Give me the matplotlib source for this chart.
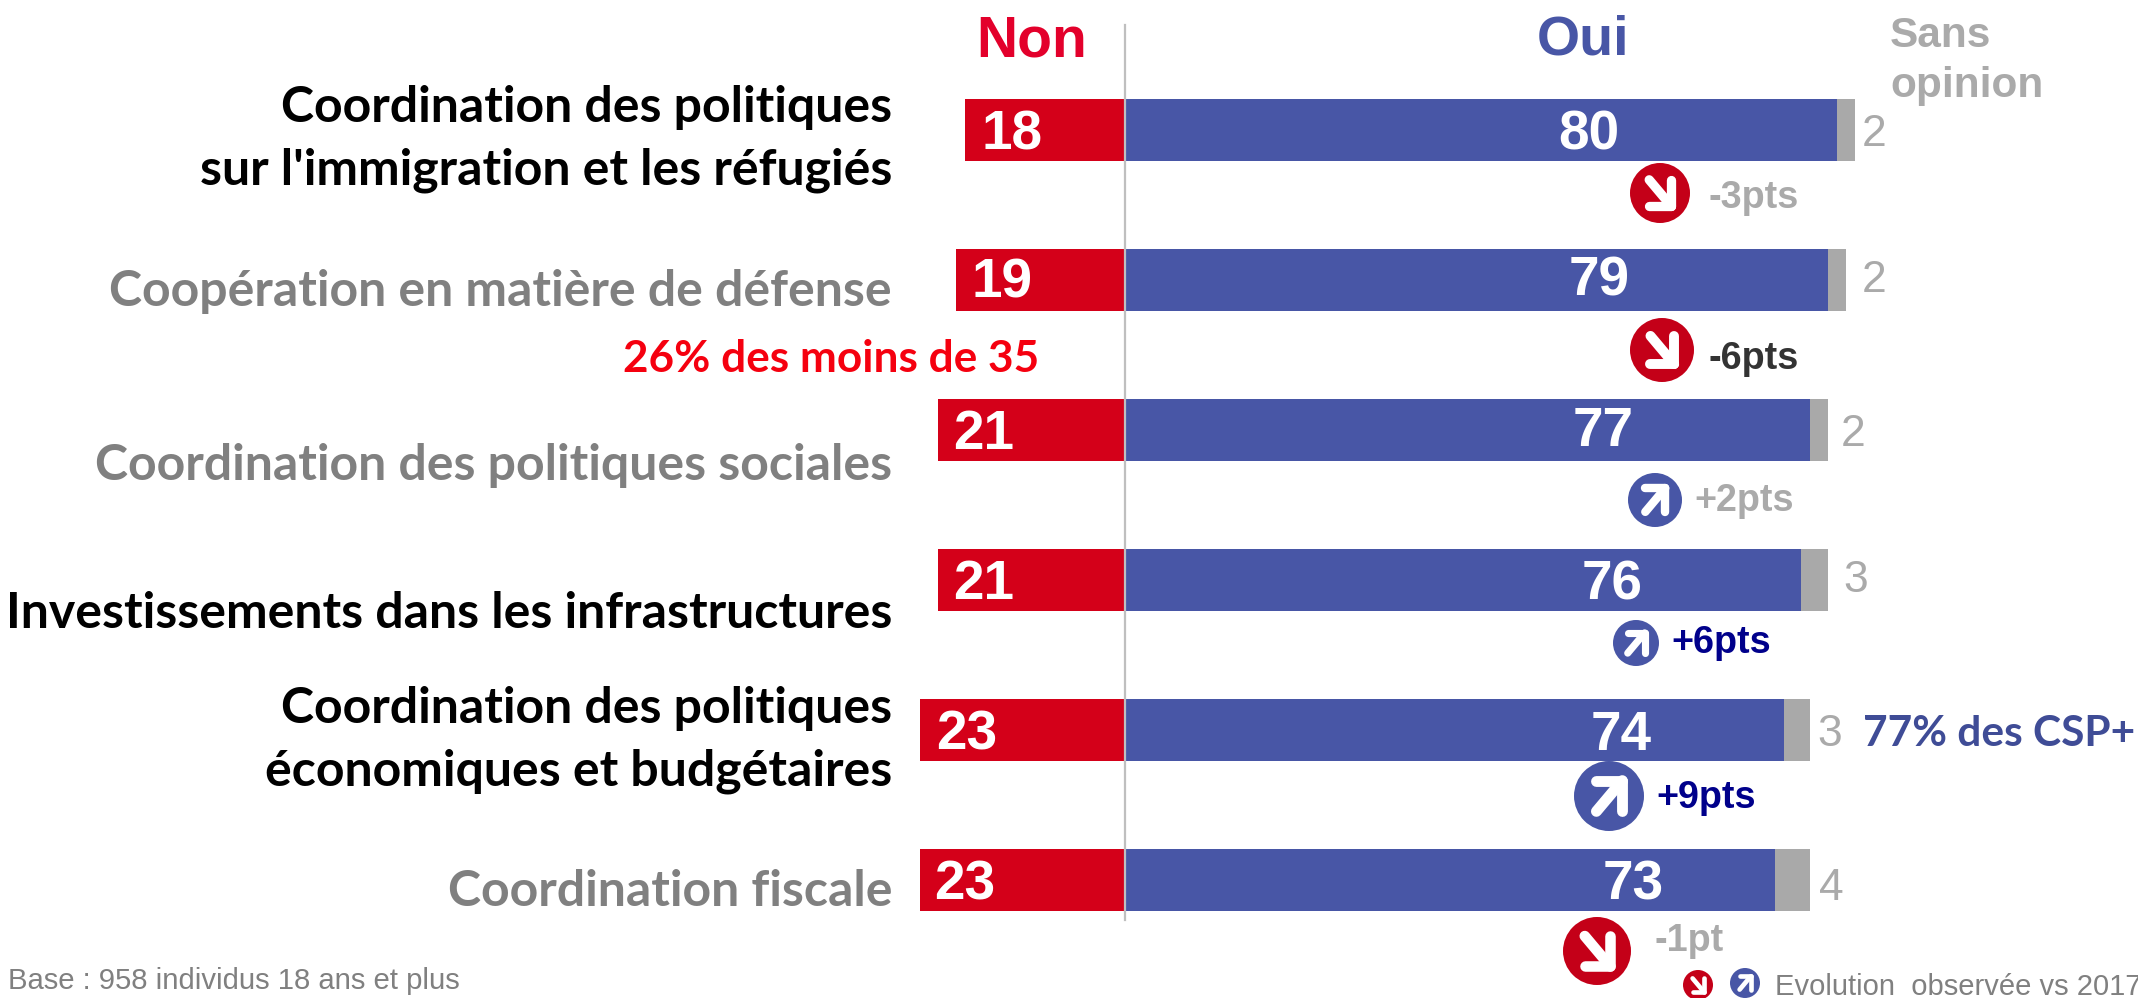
import matplotlib
matplotlib.use('Agg')
import matplotlib.pyplot as plt
from matplotlib.patches import Circle

# values
themes = ["Coordination des politiques\nsur l'immigration et les réfugiés",
          "Coopération en matière de défense",
          "Coordination des politiques sociales",
          "Investissements dans les infrastructures",
          "Coordination des politiques\néconomiques et budgétaires",
          "Coordination fiscale"]
non = [18, 19, 21, 21, 23, 23]
oui = [80, 79, 77, 76, 74, 73]
sans = [2, 2, 2, 3, 3, 4]
evolution = ["-3pts", "-6pts", "+2pts", "+6pts", "+9pts", "-1pt"]

# layout and styles, pixels of the 2138x998 picture
theme_y = [139, 291, 465, 614, 740, 892]
theme_colors = ['#000000', '#808080', '#808080', '#000000', '#000000', '#808080']
non_pos = [(1012, 135), (1002, 284), (984, 435), (984, 585), (967, 735), (965, 885)]
oui_pos = [(1589, 135), (1599, 281), (1603, 432), (1612, 586), (1621, 736), (1633, 886)]
sans_pos = [(1874, 134), (1874, 281), (1853, 434), (1856, 581), (1830, 735), (1831, 888)]
evo_pos = [(1708, 198), (1708, 359), (1694, 501), (1671, 643), (1656, 798), (1655, 941)]
evo_colors = ['#AAAAAA', '#333333', '#AAAAAA', '#00008B', '#00008B', '#AAAAAA']
circles = [(1660, 193, 30), (1662, 350, 32), (1655, 500, 27), (1636, 643, 23), (1609, 796, 35), (1597, 951, 34)]

RED = '#D40019'
BLUE = '#4856A6'
GREY = '#A9A9A9'
W, H = 2138, 998
px_per_unit = 8.9

fig = plt.figure(figsize=(W / 100, H / 100), dpi=100)
ax = fig.add_axes([0, 0, 1, 1])
ax.set_xlim(-1125 / px_per_unit, (W - 1125) / px_per_unit)
ax.set_ylim((H - 130) / 150, -130 / 150)
ax.axis('off')

rows = list(range(len(themes)))
ax.barh(rows, [-n for n in non], height=62 / 150, color=RED, linewidth=0)
ax.barh(rows, oui, height=62 / 150, color=BLUE, linewidth=0)
ax.barh(rows, sans, left=oui, height=62 / 150, color=GREY, linewidth=0)

# overlay in pixels for the labels and badges
ov = fig.add_axes([0, 0, 1, 1])
ov.set_xlim(0, W)
ov.set_ylim(H, 0)
ov.axis('off')
ov.patch.set_alpha(0)

ov.plot([1125, 1125], [25, 920], color='#BFBFBF', lw=1.6)


def badge(x, y, r, up):
    col = BLUE if up else '#C40018'
    ov.add_patch(Circle((x, y), r, color=col, lw=0, zorder=3))
    s = -1 if up else 1
    cx, cy = x + 0.38 * r, y + s * 0.44 * r
    lw = 0.31 * r * 0.72
    for dx, dy in [(cx, y - s * 0.44 * r), (x - 0.36 * r, cy), (x - 0.36 * r, y - s * 0.44 * r)]:
        ov.plot([cx, dx], [cy, dy], color='white', lw=lw, solid_capstyle='round', zorder=4)


for i in rows:
    lines = themes[i].split('\n')
    for j, line in enumerate(lines):
        yy = theme_y[i] + (j - (len(lines) - 1) / 2) * 63
        ov.text(892, yy, line, ha='right', va='center', family='Lato', weight='bold',
                fontsize=36, color=theme_colors[i])
    ov.text(*non_pos[i], str(non[i]), ha='center', va='center', family='Liberation Sans',
            weight='bold', fontsize=39.5, color='white')
    ov.text(*oui_pos[i], str(oui[i]), ha='center', va='center', family='Liberation Sans',
            weight='bold', fontsize=39.5, color='white')
    ov.text(*sans_pos[i], str(sans[i]), ha='center', va='center', family='Liberation Sans',
            fontsize=32, color='#AAAAAA')
    ov.text(*evo_pos[i], evolution[i], ha='left', va='center', family='Liberation Sans',
            weight='bold', fontsize=27.2, color=evo_colors[i])
    badge(*circles[i], evolution[i].startswith('+'))

ov.text(1032, 41, 'Non', ha='center', va='center', family='Liberation Sans', weight='bold',
        fontsize=41, color='#E3002B')
ov.text(1583, 40, 'Oui', ha='center', va='center', family='Liberation Sans', weight='bold',
        fontsize=40, color=BLUE)
ov.text(1890, 36, 'Sans', ha='left', va='center', family='Liberation Sans', weight='bold',
        fontsize=30.5, color='#AAAAAA')
ov.text(1890, 86, 'opinion', ha='left', va='center', family='Liberation Sans', weight='bold',
        fontsize=30.5, color='#AAAAAA')
ov.text(1039, 359, '26% des moins de 35', ha='right', va='center', family='Lato', weight='bold',
        fontsize=31.8, color='#F5000F')
ov.text(1863, 734, '77% des CSP+', ha='left', va='center', family='Lato', weight='bold',
        fontsize=30.5, color='#3F4C96')
ov.text(8, 981, 'Base : 958 individus 18 ans et plus', ha='left', va='center',
        family='Liberation Sans', fontsize=21.1, color='#808080')
ov.text(1775, 987, 'Evolution  observée vs 2017', ha='left', va='center',
        family='Liberation Sans', fontsize=21, color='#808080')
badge(1698, 985, 15, False)
badge(1745, 983, 15, True)

fig.savefig('out.png', dpi=100, facecolor='white')
